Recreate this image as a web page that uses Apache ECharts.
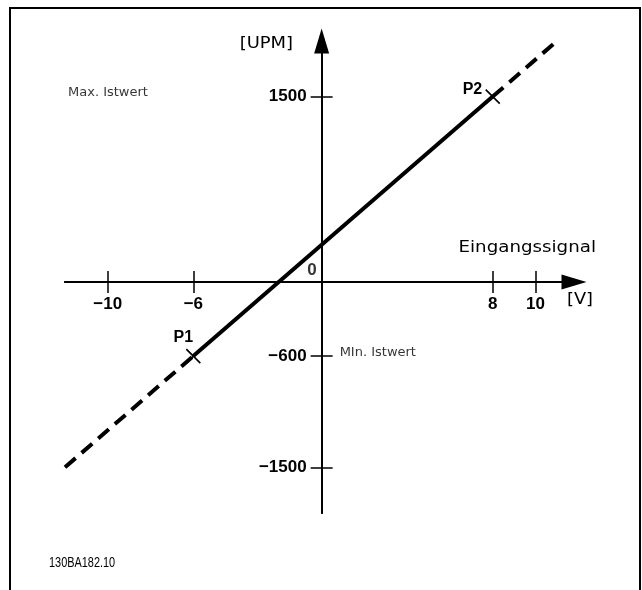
<!DOCTYPE html>
<html>
<head>
<meta charset="utf-8">
<script src="https://cdn.jsdelivr.net/npm/echarts@6/dist/echarts.min.js"></script>
<style>
  html, body { margin: 0; padding: 0; background: #fff; }
  #chart { width: 642px; height: 590px; }
</style>
</head>
<body>
<div id="chart"></div>
<script>
// Kennlinie: Eingangssignal [V] -> Istwert [UPM]
const xTicks = [-10, -6, 8, 10];
const yTicks = [-1500, -600, 1500];
const p1 = [-6, -600];      // Min. Istwert
const p2 = [8, 1500];       // Max. Istwert
const lineStart = [-12, -1500];   // Ende der gestrichelten Verlängerung links
const lineEnd = [10.9, 1935];     // Ende der gestrichelten Verlängerung rechts
const xRange = [-12, 11.8];
const yRange = [-1870, 1950];

const minus = v => String(v).replace('-', '\u2212');
const tickFont = { fontFamily: 'Liberation Sans, Arial, sans-serif', fontWeight: 'bold', fontSize: 17, color: '#000' };
const noteFont = { fontFamily: 'DejaVu Sans, Verdana, sans-serif', fontSize: 13, color: '#000' };
const titleFont = '16px "DejaVu Sans", Verdana, sans-serif';

const chart = echarts.init(document.getElementById('chart'), null, { renderer: 'canvas' });

// zwei Achsen pro Richtung, damit die Striche beidseitig über die Achse gehen
const xAxisBase = (inside) => ({
  type: 'value',
  position: 'bottom',
  min: xRange[0],
  max: xRange[1],
  axisLine: {
    onZero: false,
    lineStyle: { color: '#000', width: 2 },
    symbol: inside ? ['none', 'none'] : ['none', 'triangle'],
    symbolSize: [15, 25]
  },
  axisTick: { show: true, inside: inside, length: 11, customValues: xTicks, lineStyle: { color: '#000', width: 1.5 } },
  axisLabel: inside ? { show: false } : Object.assign({ customValues: xTicks, margin: 14, formatter: minus }, tickFont),
  splitLine: { show: false }
});

const yAxisBase = (inside) => ({
  type: 'value',
  position: 'left',
  min: yRange[0],
  max: yRange[1],
  axisLine: {
    onZero: false,
    lineStyle: { color: '#000', width: 2 },
    symbol: inside ? ['none', 'none'] : ['none', 'triangle'],
    symbolSize: [15, 25]
  },
  axisTick: { show: true, inside: inside, length: 11, customValues: yTicks, lineStyle: { color: '#000', width: 1.5 } },
  axisLabel: inside ? { show: false } : Object.assign({ customValues: yTicks, margin: 15, formatter: minus }, tickFont),
  splitLine: { show: false }
});

const option = {
  animation: false,
  backgroundColor: '#fff',
  grid: { left: 65, right: 68, top: 41, bottom: 77, outerBoundsMode: 'none', containLabel: false },
  xAxis: [xAxisBase(false), xAxisBase(true)],
  yAxis: [yAxisBase(false), yAxisBase(true)],
  series: [
    {
      // gestrichelt links
      type: 'line', data: [lineStart, p1], symbol: 'none', clip: false, silent: true,
      lineStyle: { color: '#000', width: 4, type: [14, 8] }
    },
    {
      // gestrichelt rechts
      type: 'line', data: [p2, lineEnd], symbol: 'none', clip: false, silent: true,
      lineStyle: { color: '#000', width: 4, type: [14, 8] }
    },
    {
      // durchgezogen zwischen P1 und P2
      type: 'line', data: [p1, p2], symbol: 'none', clip: false, silent: true,
      lineStyle: { color: '#000', width: 4 }
    },
    {
      // Punkte P1, P2
      type: 'scatter', silent: true, clip: false,
      symbol: 'path://M0,0L10,10M10,0L0,10', symbolSize: 14,
      itemStyle: { color: 'none', borderColor: '#000', borderWidth: 1.6, opacity: 1 },
      data: [
        { value: p1, label: { show: true, formatter: 'P1', position: 'top', distance: 1, offset: [-10, 0],
          fontFamily: 'Liberation Sans, Arial, sans-serif', fontWeight: 'bold', fontSize: 16, color: '#000' } },
        { value: p2, label: { show: true, formatter: 'P2', position: 'left', distance: 1, offset: [0, -7],
          fontFamily: 'Liberation Sans, Arial, sans-serif', fontWeight: 'bold', fontSize: 16, color: '#000' } }
      ]
    },
    {
      // Beschriftungen an den Achsen
      type: 'scatter', silent: true, clip: false, symbolSize: 0,
      data: [
        { value: [0, 0], label: Object.assign({ show: true, formatter: '0', position: 'left', distance: 5, offset: [0, -12] }, tickFont) },
        { value: [0, p1[1]], label: Object.assign({ show: true, formatter: 'MIn. Istwert', position: 'right', distance: 18, offset: [0, -3] }, noteFont) },
        { value: [xRange[0], p2[1]], label: Object.assign({ show: true, formatter: 'Max. Istwert', position: 'right', distance: 3, offset: [0, -4] }, noteFont) }
      ]
    }
  ],
  graphic: [
    {
      type: 'rect', silent: true,
      shape: { x: 10, y: 8, width: 630, height: 620 },
      style: { fill: 'none', stroke: '#000', lineWidth: 2 }
    },
    {
      type: 'text', x: 293, y: 44, scaleX: 1.12, silent: true,
      style: { text: '[UPM]', align: 'right', verticalAlign: 'middle', font: titleFont, fill: '#000' }
    },
    {
      type: 'text', x: 596, y: 248, scaleX: 1.14, silent: true,
      style: { text: 'Eingangssignal', align: 'right', verticalAlign: 'middle', font: titleFont, fill: '#000' }
    },
    {
      type: 'text', x: 593, y: 300, scaleX: 1.11, silent: true,
      style: { text: '[V]', align: 'right', verticalAlign: 'middle', font: titleFont, fill: '#000' }
    },
    {
      type: 'text', x: 49, y: 563, scaleX: 0.78, silent: true,
      style: { text: '130BA182.10', align: 'left', verticalAlign: 'middle', font: '14px "Liberation Sans", Arial, sans-serif', fill: '#000' }
    }
  ]
};

chart.setOption(option);

// Achsen durch den Nullpunkt legen (Abstand vom Gitterrand über die Skala bestimmen)
const origin = chart.convertToPixel({ gridIndex: 0 }, [0, 0]);
const corner = chart.convertToPixel({ gridIndex: 0 }, [xRange[0], yRange[0]]);
const xOffset = -(corner[1] - origin[1]);
const yOffset = -(origin[0] - corner[0]);
chart.setOption({
  xAxis: [{ offset: xOffset }, { offset: xOffset }],
  yAxis: [{ offset: yOffset }, { offset: yOffset }]
});
</script>
</body>
</html>
